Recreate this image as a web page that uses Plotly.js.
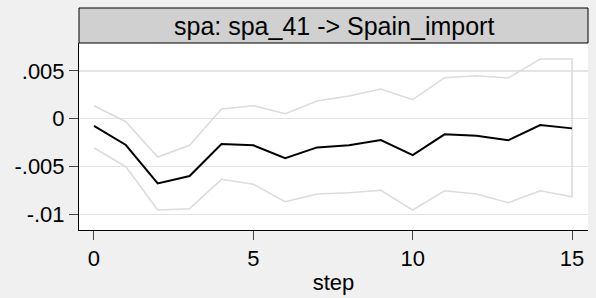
<!DOCTYPE html>
<html><head><meta charset="utf-8">
<script src="https://cdn.plot.ly/plotly-3.0.1.min.js"></script>
<style>html,body{margin:0;padding:0;background:#f0f0f0;}#chart{width:596px;height:298px;}</style>
</head><body><div id="chart"></div>
<script>
var steps = [0,1,2,3,4,5,6,7,8,9,10,11,12,13,14,15];
var irf = [-0.00076,-0.00275,-0.00676,-0.0060,-0.00265,-0.00278,-0.00414,-0.0030,-0.00278,-0.00223,-0.0038,-0.00163,-0.00177,-0.00226,-0.00066,-0.00101];
var upper = [0.00136,-0.00031,-0.0040,-0.00278,0.00101,0.00136,0.00052,0.00185,0.00237,0.00311,0.00199,0.00429,0.0045,0.00426,0.00624,0.00624];
var lower = [-0.00303,-0.00502,-0.00955,-0.00941,-0.00634,-0.00686,-0.00868,-0.00788,-0.00774,-0.00749,-0.00955,-0.00753,-0.00788,-0.00879,-0.00753,-0.00816];
var yTickVals = [0.005, 0, -0.005, -0.01];
var yTickText = [".005", "0", "-.005", "-.01"];
var xTickVals = [0, 5, 10, 15];
var panelTitle = "spa: spa_41 -> Spain_import";
var xTitle = "step";

var bandX = steps.concat(steps.slice().reverse());
var bandY = upper.concat(lower.slice().reverse());

var traces = [
  {x: bandX, y: bandY, type: 'scatter', mode: 'lines', line: {color: '#dcdcdc', width: 1.6}, hoverinfo: 'skip'},
  {x: steps, y: irf, type: 'scatter', mode: 'lines', line: {color: '#000000', width: 2}}
];

var layout = {
  width: 596, height: 298,
  paper_bgcolor: '#f0f0f0', plot_bgcolor: '#ffffff',
  showlegend: false,
  margin: {l: 79, r: 8, t: 43, b: 68, pad: 0},
  font: {family: 'Liberation Sans, Arial, sans-serif', color: '#000000'},
  xaxis: {
    range: [-0.47, 15.5], tickvals: xTickVals, ticktext: xTickVals.map(String),
    showgrid: false, zeroline: false, showline: true, linecolor: '#000000', linewidth: 1,
    ticks: 'outside', ticklen: 9, tickcolor: '#444444', tickwidth: 1,
    tickfont: {size: 22}, title: {text: xTitle, font: {size: 22}, standoff: 4}
  },
  yaxis: {
    range: [-0.01164, 0.00792], tickvals: yTickVals, ticktext: yTickText,
    showgrid: true, gridcolor: '#e4e4e4', gridwidth: 1.5, zeroline: false,
    showline: true, linecolor: '#000000', linewidth: 1,
    ticks: 'outside', ticklen: 9, tickcolor: '#444444', tickwidth: 1,
    tickfont: {size: 22}
  },
  shapes: [
    {type: 'rect', xref: 'paper', yref: 'paper', x0: 0, x1: 1, y0: 1, y1: 1 + 35/187,
     fillcolor: '#d0d0d0', line: {color: '#000000', width: 1}}
  ],
  annotations: [
    {text: panelTitle, xref: 'paper', yref: 'paper', x: 0.5, y: 1 + 17.5/187,
     xanchor: 'center', yanchor: 'middle', showarrow: false, font: {size: 25, color: '#000000'}}
  ]
};

Plotly.newPlot('chart', traces, layout, {staticPlot: true, displayModeBar: false});
</script>
</body></html>
